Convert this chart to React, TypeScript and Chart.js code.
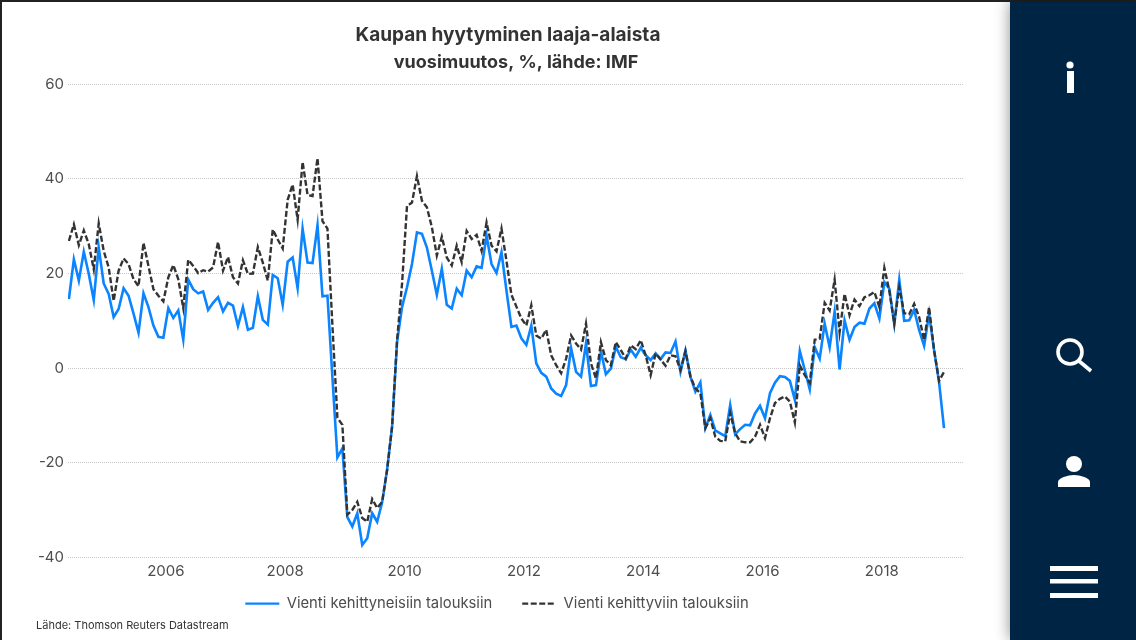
import React, { useEffect, useRef } from "react";
import { Chart, registerables } from "chart.js";

Chart.register(...registerables);

const TITLE = "Kaupan hyytyminen laaja-alaista";
const SUBTITLE = "vuosimuutos, %, lähde: IMF";
const SOURCE = "Lähde: Thomson Reuters Datastream";
const SERIES_A = "Vienti kehittyneisiin talouksiin";
const SERIES_B = "Vienti kehittyviin talouksiin";

const advanced = [
  14.6, 23, 18.5, 24.6, 19.9, 14.4, 25.5, 17.9, 15.7, 10.8, 12.5, 16.9, 15.3, 11.5, 7.5, 15.8, 12.9, 9, 6.6, 6.4,
  12.7, 10.6, 12.2, 6, 18.7, 16.7, 15.8, 16.2, 12.3, 13.8, 15, 12, 13.8, 13.2, 8.9, 12.9, 8.1, 8.5, 15.2, 10.2,
  9.2, 19.7, 19, 13.4, 22.5, 23.4, 16.9, 29.5, 22.3, 22.2, 30.2, 15.2, 15.3, -2, -18.9, -17, -31.5, -33.5, -30.7, -37.4,
  -36, -30.7, -32.5, -28.4, -21.5, -12.4, 5.5, 12.9, 17.1, 22, 28.7, 28.4, 25.5, 20.6, 15.5, 21, 13.4, 12.6, 16.8, 15.4,
  20.6, 19.2, 21.5, 21.2, 28, 22, 20.1, 24.5, 16.4, 8.7, 9, 6.3, 4.9, 9, 1, -1, -1.8, -4.3, -5.4, -5.9,
  -3.6, 4.2, -0.8, -1.8, 5.2, -3.8, -3.6, 3.5, -1.3, -0.1, 4.5, 2.3, 1.9, 3.9, 2.4, 4.3, 2.7, 1.7, 3.1, 1.9,
  3.3, 3.2, 5.6, -0.8, 3.7, -1.8, -5, -3, -12.7, -9.9, -13.2, -13.8, -14.4, -7.8, -14, -12.9, -12, -12.1, -9.6, -8,
  -10.6, -5.3, -3.1, -1.7, -1.9, -2.7, -6.7, 3.6, -0.4, -4.5, 4.4, 2, 9.4, 4.4, 11.9, -0.3, 10.1, 6, 8.7, 9.6,
  9.4, 12.6, 13.7, 10.5, 18.2, 16.8, 9.3, 18.7, 10, 10.1, 12.3, 8, 4.7, 11.5, 3.8, -2.9, -12.7,
];

const emerging = [
  26.9, 30.4, 26, 29.1, 26.2, 20.9, 30.6, 24.8, 21.3, 14.2, 20.6, 23.2, 22, 18.8, 17.3, 26.5, 21.6, 16.7, 15.3, 14.1,
  19.2, 21.8, 18.8, 12.7, 22.9, 21.6, 20.1, 20.7, 20.4, 21.3, 26.7, 20.6, 23.5, 19.2, 17.9, 22.8, 19.9, 20, 25.6, 22.3,
  18.5, 29.3, 27.2, 25.3, 35.6, 38.8, 31.4, 43.6, 36.6, 36.4, 44.4, 31.1, 29.5, 9, -10.5, -12, -31, -30, -28.3, -31.7,
  -32.5, -27.7, -29.6, -28.3, -21.5, -12.4, 5.9, 17.8, 34.3, 35, 40.6, 35.4, 34, 29.8, 23.8, 27.8, 23.4, 21.7, 25.9, 22.4,
  29, 27.3, 28.2, 24.8, 30.8, 25.9, 24.7, 29.5, 22.7, 15.5, 13, 10.5, 9, 13.3, 6.9, 6.2, 8.1, 2.7, 0.6, -1.1,
  2, 6.9, 5.2, 3.9, 9.4, 1, -2.2, 5.5, 1.7, 0.6, 5.5, 3.8, 2, 4.8, 4, 5.9, 2.7, -1.5, 3.1, 1.8,
  0.5, 2.7, 2.5, -0.4, 3.6, -1.8, -4.3, -5.3, -12.7, -10.6, -14.5, -15.4, -15.5, -9.5, -13.8, -15.5, -15.7, -15.7, -14.5, -12,
  -14.8, -10.6, -7.4, -6.5, -6, -7.1, -11.5, 0.6, -1.5, -3.1, 6, 6.2, 13.8, 12.2, 18.7, 7.6, 15.7, 11.2, 14.5, 13.1,
  15, 15.4, 16.1, 12.9, 21.2, 16.4, 9.4, 17.1, 11.6, 11.4, 13.6, 10.8, 5.9, 12.9, 3.8, -2.7, -0.8,
];

// Monthly observations from May 2004, placed mid-month on a decimal-year axis.
const dates = advanced.map((_, i) => 2004 + (4.5 + i) / 12);

const FONT = "Inter, 'Open Sans', sans-serif";
const TEXT = "#4d4d4d";
const DASH = [6, 2.5];

function App() {
  const ref = useRef<HTMLCanvasElement>(null);
  useEffect(() => {
    const boxShift = {
      id: "boxShift",
      afterLayout(chart: any) {
        chart.legend.right = 994;
        chart.scales.x.bottom = chart.scales.x.top + 30;
        chart.boxes.forEach((b: any) => {
          if (b.options && b.options.text === TITLE) b.right = 1016;
          if (b.options && b.options.text === SUBTITLE) b.right = 1032;
        });
      },
    };
    const chart = new Chart(ref.current!, {
      type: "line",
      plugins: [boxShift],
      data: {
        datasets: [
          {
            label: SERIES_B,
            data: dates.map((x, i) => ({ x, y: emerging[i] })),
            borderColor: "#333333",
            backgroundColor: "#333333",
            borderWidth: 2.4,
            borderDash: DASH,
            pointRadius: 0,
            tension: 0,
            fill: false,
          },
          {
            label: SERIES_A,
            data: dates.map((x, i) => ({ x, y: advanced[i] })),
            borderColor: "#0a84ff",
            backgroundColor: "#0a84ff",
            borderWidth: 2.6,
            pointRadius: 0,
            tension: 0,
            fill: false,
          },
        ],
      },
      options: {
        animation: false,
        responsive: false,
        layout: { padding: { left: 0, right: 53, top: 16, bottom: 19 } },
        plugins: {
          tooltip: { enabled: false },
          title: {
            display: true,
            text: TITLE,
            color: "#333333",
            font: { family: FONT, size: 19, weight: "bold" },
            padding: { top: 8, bottom: 5 },
          },
          subtitle: {
            display: true,
            text: SUBTITLE,
            color: "#333333",
            font: { family: FONT, size: 18, weight: "bold" },
            padding: { top: 0, bottom: 11 },
          },
          legend: {
            position: "bottom",
            labels: {
              color: TEXT,
              font: { family: FONT, size: 14.8 },
              usePointStyle: true,
              pointStyle: "line",
              pointStyleWidth: 34,
              padding: 30,
              sort: (a: any, b: any) => b.datasetIndex - a.datasetIndex,
              generateLabels: (c: any) =>
                Chart.defaults.plugins.legend.labels.generateLabels(c).map((item: any) => ({
                  ...item,
                  lineWidth: 2.4,
                  lineDash: item.datasetIndex === 0 ? DASH : [],
                })),
            },
          },
        },
        scales: {
          x: {
            type: "linear",
            min: 2004.36,
            max: 2019.36,
            afterFit: (s: any) => {
              s.height = 9;
            },
            grid: { display: false, drawTicks: false },
            border: { display: false },
            ticks: {
              stepSize: 2,
              includeBounds: false,
              autoSkip: false,
              maxRotation: 0,
              padding: 5,
              color: TEXT,
              font: { family: FONT, size: 15 },
              callback: (v: any) => String(v),
            },
          },
          y: {
            min: -40,
            max: 60,
            afterFit: (s: any) => {
              s.width = 68;
            },
            grid: { color: "#c8c8c8", lineWidth: 1, drawTicks: false },
            border: { display: false, dash: [1, 1] },
            ticks: {
              stepSize: 20,
              padding: 4,
              color: TEXT,
              font: { family: FONT, size: 15 },
            },
          },
        },
      },
    } as any);
    return () => chart.destroy();
  }, []);

  return (
    <div style={{ position: "fixed", left: 0, top: 0, width: 1136, height: 640, overflow: "hidden", background: "#fff" }}>
      <canvas ref={ref} width={1016} height={640} style={{ position: "absolute", left: 0, top: 0 }} />
      <div style={{ position: "absolute", left: 36, top: 618, font: `11px ${FONT}`, color: "#333" }}>{SOURCE}</div>
      <div style={{ position: "absolute", left: 0, top: 0, width: 2, height: 640, background: "#222" }} />
      <div style={{ position: "absolute", left: 0, top: 0, width: 1136, height: 2, background: "#222" }} />
      <div
        style={{
          position: "absolute",
          left: 1010,
          top: 2,
          width: 126,
          height: 638,
          background: "#002544",
          boxShadow: "0 0 14px rgba(0,0,0,0.45)",
        }}
      />
      <svg width={126} height={640} style={{ position: "absolute", left: 1010, top: 0 }} fill="#fff">
        <circle cx={60} cy={65} r={3.6} />
        <rect x={57} y={71} width={7} height={22} />
        <circle cx={60} cy={352} r={12} fill="none" stroke="#fff" strokeWidth={3.6} />
        <line x1={69} y1={361} x2={81} y2={371} stroke="#fff" strokeWidth={3.6} />
        <circle cx={64} cy={464} r={8} />
        <path d="M48 487 v-5 c0 -4 10 -7 16 -7 c6 0 16 3 16 7 v5 z" />
        <rect x={40} y={566} width={48} height={5} />
        <rect x={40} y={579} width={48} height={4.5} />
        <rect x={40} y={593} width={48} height={5} />
      </svg>
    </div>
  );
}

export default App;
